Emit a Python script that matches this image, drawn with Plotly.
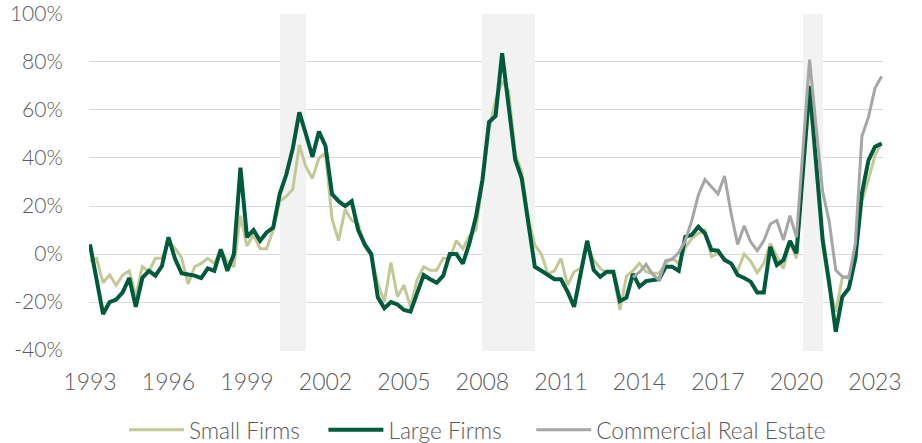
import plotly.graph_objects as go

# Quarterly observations starting 1993 Q1
start_year = 1993
n_quarters = 122

small_firms = [
    -3, -1.8, -12, -8.7, -13, -8.75, -7, -17.5, -5.3, -7.4,
    -1.8, -1.8, 5, 2.4, -1.5, -12.5, -5.3, -3.9, -1.8, -3.9,
    1.5, -3, -5.3, 16, 3.3, 8, 2.2, 2.2, 10, 22,
    24, 27, 45.4, 36.4, 31.5, 40, 42, 14.5, 5.6, 18.6,
    14, 12.6, 3.2, -1.1, -12.3, -20, -3.5, -17.8, -13, -22,
    -10.7, -5.3, -6.8, -6.8, -1.8, -1.8, 5.5, 2.2, 7.5, 10,
    30, 52, 64, 72, 68, 42, 34, 15, 3.75, 0,
    -8.3, -7, -1.8, -13, -7.4, -6, 4, -2.5, -6, -7.8,
    -8, -23.3, -9.3, -7, -3.9, -7.4, -8, -8, -3.9, -1.8,
    -3.9, 2.5, 6.5, 8.6, 10, -1.1, 0.3, -2, -3.9, -7,
    0, -3, -7.8, -3.9, 4.4, -1.1, -6, 5, -1.8, 33,
    66, 35, 3, -14, -24, -10, -9, -2, 22, 31,
    41, 46.5,
]

large_firms = [
    4, -10.5, -25, -20, -19, -16, -10, -22, -10, -7,
    -9, -5, 7, -2, -8, -8.5, -9, -10, -6, -7,
    2, -7, 0, 36, 7, 10, 5.5, 9, 11, 25,
    33, 44, 59, 50, 40.5, 51, 45, 25, 22, 20,
    22, 10, 4, 0, -18, -22.6, -20, -21, -23.3, -24,
    -16.5, -8.75, -10.5, -12, -9, 0, 0, -4, 4.5, 15.5,
    31, 55, 57.5, 83.6, 61.5, 39.4, 31.5, 13, -5.3, -7,
    -8.75, -10.5, -10.5, -15.7, -22, -8, 5.5, -6.7, -9.5, -7.4,
    -7.4, -19.6, -18.2, -8.3, -13.6, -11.3, -11, -10.5, -5.3, -5.3,
    -7, 7.2, 8, 11.4, 8.6, 1.7, 1.4, -2.5, -3.9, -8.75,
    -10, -11.5, -16, -16, 3, -4.6, -2.5, 5.5, 0.3, 35,
    70, 38, 6, -12, -32.4, -17.8, -14.3, -1.8, 25.3, 39,
    44.7, 46,
]

commercial_real_estate = [None] * 83 + [
    -9.7, -7.6, -4.3, -8.5, -10.8, -2.8, -2.2, 0.6, 5.5, 14,
    24.6, 31, 28, 25, 32.5, 17, 4, 11.7, 5, 1.4,
    5.5, 12.5, 14, 5.8, 16, 7, 44, 81, 53, 26,
    13.5, -6.7, -9.4, -10, 4.4, 49, 57, 69, 74,
]

recession_starts = [2000.25, 2008.0, 2020.25]
recession_ends = [2001.25, 2010.0, 2021.0]

x_tick_years = [1993, 1996, 1999, 2002, 2005, 2008, 2011, 2014, 2017, 2020, 2023]
y_ticks = [-40, -20, 0, 20, 40, 60, 80, 100]
y_tick_labels = [f"{v}%" for v in y_ticks]

quarters = [start_year + i / 4 for i in range(n_quarters)]

FONT = "Lato"
TEXT_COLOR = "#595959"
Y_BOTTOM, Y_TOP = -40.8, 100
NBSP = "\u00a0"  # extra spacing between legend entries

fig = go.Figure()

# recession shading (drawn as bars so it sits above the gridlines, below the lines)
fig.add_trace(go.Bar(
    x=[(s + e) / 2 for s, e in zip(recession_starts, recession_ends)],
    width=[e - s for s, e in zip(recession_starts, recession_ends)],
    y=[Y_TOP - Y_BOTTOM] * len(recession_starts),
    base=[Y_BOTTOM] * len(recession_starts),
    marker=dict(color="#f2f2f2", line=dict(width=0)),
    showlegend=False, hoverinfo="skip",
))

fig.add_trace(go.Scatter(x=quarters, y=small_firms, mode="lines",
                         name="Small Firms" + NBSP * 3,
                         line=dict(color="#c3c896", width=3)))
fig.add_trace(go.Scatter(x=quarters, y=large_firms, mode="lines",
                         name="Large Firms" + NBSP * 4,
                         line=dict(color="#005a3c", width=4)))
fig.add_trace(go.Scatter(x=quarters, y=commercial_real_estate, mode="lines",
                         name="Commercial Real Estate",
                         line=dict(color="#a6a6a6", width=3)))

fig.update_layout(
    width=922, height=443,
    margin=dict(l=89, r=39, t=13, b=92, autoexpand=False),
    paper_bgcolor="white", plot_bgcolor="white",
    font=dict(family=FONT, color=TEXT_COLOR, size=21, weight=300),
    showlegend=True,
    bargap=0,
    legend=dict(orientation="h", x=0.044, xanchor="left", y=-0.234, yanchor="middle",
                font=dict(family=FONT, size=22.7, color=TEXT_COLOR, weight=300),
                itemwidth=55, bgcolor="rgba(0,0,0,0)"),
)
fig.update_xaxes(range=[1992.962, 2023.306], tickmode="array", tickvals=x_tick_years,
                 ticktext=[str(y) for y in x_tick_years],
                 showgrid=False, zeroline=False, showline=False,
                 ticks="outside", ticklen=10, tickcolor="rgba(0,0,0,0)",
                 tickfont=dict(family=FONT, size=23, color=TEXT_COLOR, weight=300))
fig.update_yaxes(range=[-40.4, 100.4], tickmode="array", tickvals=y_ticks,
                 ticktext=y_tick_labels,
                 showgrid=True, gridcolor="#d9d9d9", gridwidth=1.3,
                 zeroline=False, showline=False, ticks="outside", ticklen=21,
                 tickcolor="rgba(0,0,0,0)",
                 tickfont=dict(family=FONT, size=21, color=TEXT_COLOR, weight=300))

fig.write_html("out.html", config={"displayModeBar": False},
               post_script="document.body.style.margin='0px';document.body.style.overflow='hidden';")
